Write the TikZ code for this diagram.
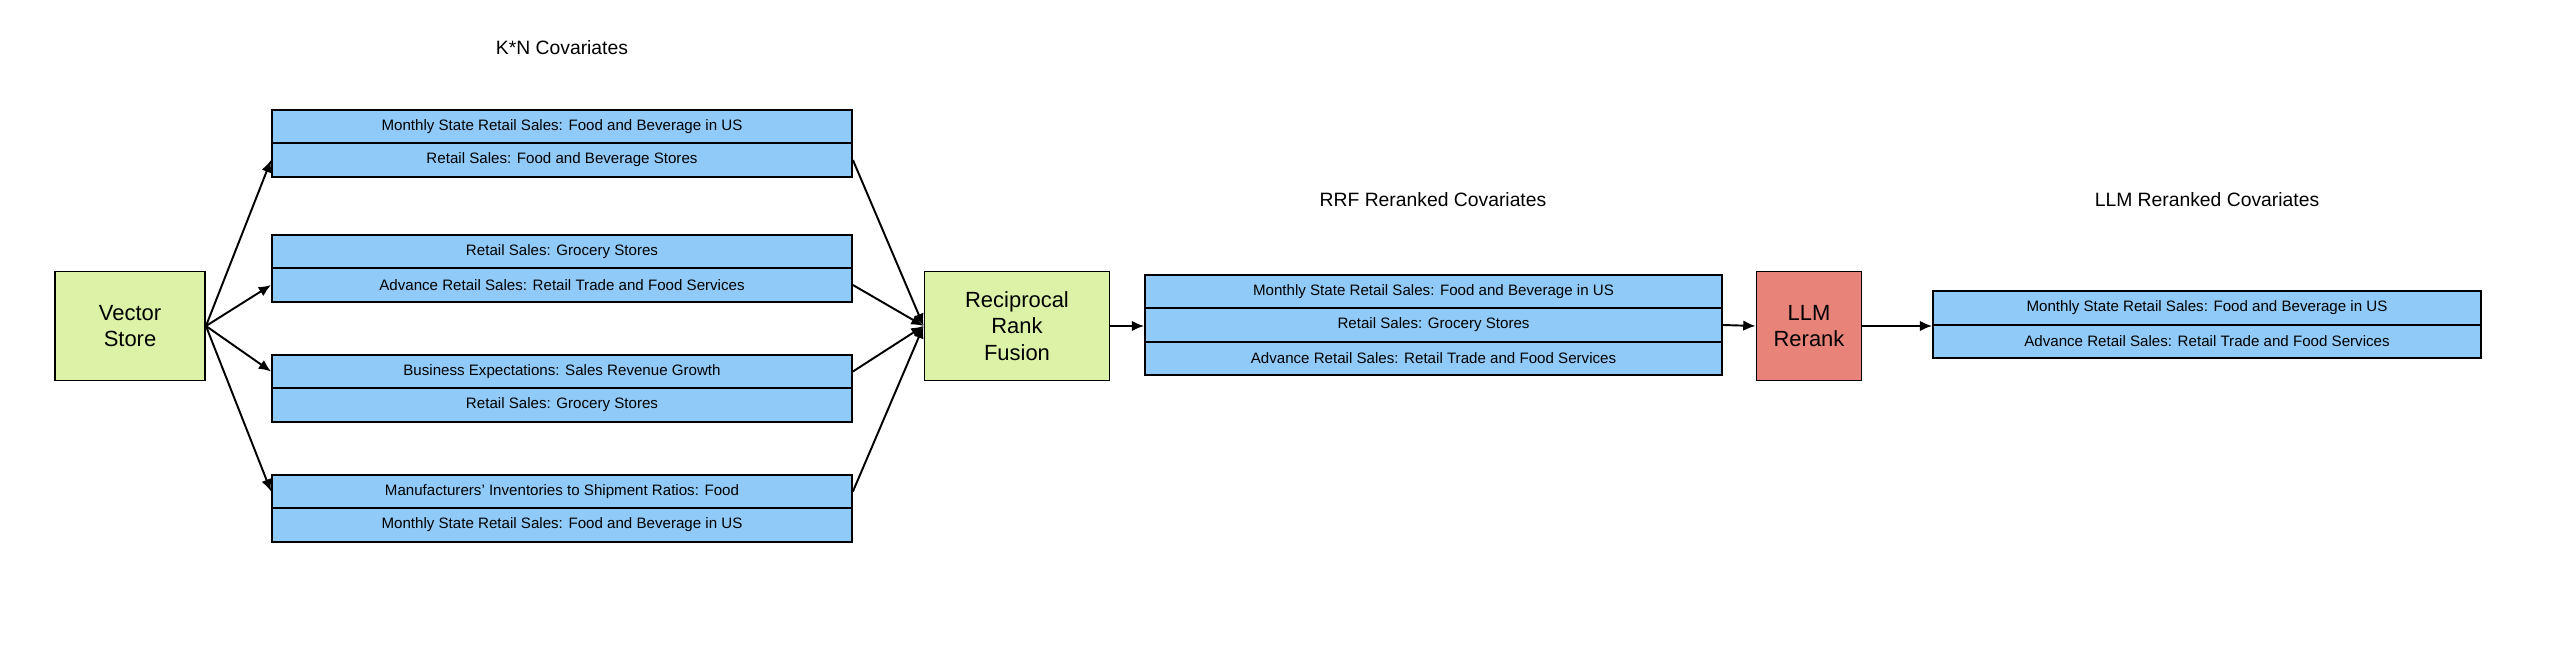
\documentclass[tikz,border=0pt]{standalone}
\usepackage{fontspec}
\setmainfont{Liberation Sans}
\usetikzlibrary{arrows.meta,positioning}
\definecolor{rowblue}{HTML}{90CAF9}
\definecolor{boxgreen}{HTML}{DCF2A6}
\definecolor{boxred}{HTML}{E8837A}
\tikzset{
  row/.style={draw, line width=1.1pt, fill=rowblue, minimum width=11.6cm, minimum height=0.67cm, inner sep=0pt, font=\fontsize{8.6}{10}\selectfont},
  stage/.style={draw, line width=1.1pt, minimum height=2.18cm, align=center, font=\fontsize{12.5}{15}\selectfont},
  title/.style={font=\fontsize{11}{13}\selectfont},
  flow/.style={line width=1.1pt, -{Latex[length=7pt,width=6pt]}}
}
\begin{document}
\begin{tikzpicture}[x=0.02cm, y=-0.02cm]
  \useasboundingbox (0,0) rectangle (2560,655);

  \node[stage, fill=boxgreen, minimum width=3cm] (vs) at (130,326) {Vector\\Store};
  \node[stage, fill=boxgreen, minimum width=3.7cm] (rrf) at (1017,326) {Reciprocal\\Rank\\Fusion};
  \node[stage, fill=boxred, minimum width=2.1cm] (llm) at (1809,326) {LLM\\Rerank};

  \node[title] (tkn) at (562,48) {K*N Covariates};
  \node[title] (trrf) at (1433,200) {RRF Reranked Covariates};
  \node[title] (tllm) at (2207,200) {LLM Reranked Covariates};

  \node[row] (a1) at (562,126.5) {Monthly State Retail Sales: Food and Beverage in US};
  \node[row] (a2) at (562,160) {Retail Sales: Food and Beverage Stores};
  \node[row] (b1) at (562,251.5) {Retail Sales: Grocery Stores};
  \node[row] (b2) at (562,285) {Advance Retail Sales: Retail Trade and Food Services};
  \node[row] (c1) at (562,371.5) {Business Expectations: Sales Revenue Growth};
  \node[row] (c2) at (562,405) {Retail Sales: Grocery Stores};
  \node[row] (d1) at (562,491.5) {Manufacturers’ Inventories to Shipment Ratios: Food};
  \node[row] (d2) at (562,525) {Monthly State Retail Sales: Food and Beverage in US};

  \node[row, minimum width=11.54cm] (r1) at (1433.5,291.5) {Monthly State Retail Sales: Food and Beverage in US};
  \node[row, minimum width=11.54cm] (r2) at (1433.5,325) {Retail Sales: Grocery Stores};
  \node[row, minimum width=11.54cm] (r3) at (1433.5,358.5) {Advance Retail Sales: Retail Trade and Food Services};

  \node[row, minimum width=10.96cm] (l1) at (2207,308) {Monthly State Retail Sales: Food and Beverage in US};
  \node[row, minimum width=10.96cm] (l2) at (2207,341.5) {Advance Retail Sales: Retail Trade and Food Services};

  \foreach \t in {a2,b2,c1,d1}
    \draw[flow] (vs.east) -- (\t.west);
  \foreach \s in {a2,b2,c1,d1}
    \draw[flow] (\s.east) -- (rrf.west);
  \draw[flow] (rrf.east) -- (r2.west |- rrf.east);
  \draw[flow] (r2.east) -- (llm.west);
  \draw[flow] (llm.east) -- (l1.west |- llm.east);
\end{tikzpicture}
\end{document}
